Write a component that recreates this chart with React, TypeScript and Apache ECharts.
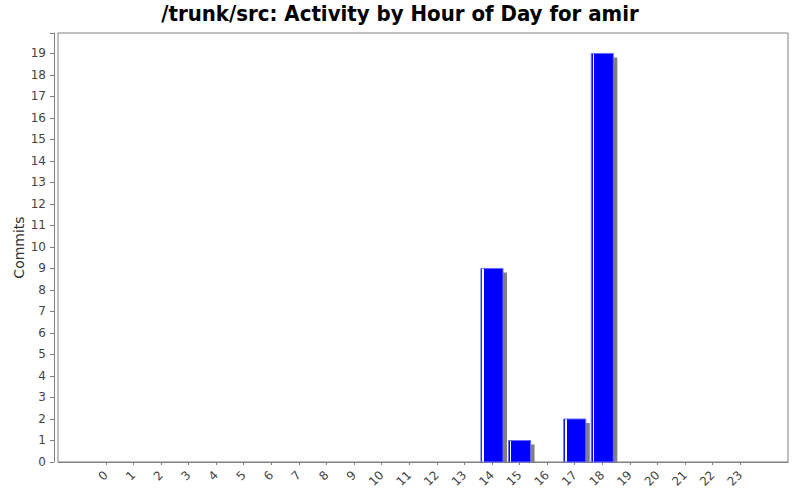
import React, { useRef, useEffect } from 'react';
import * as echarts from 'echarts';

const hours = ['0', '1', '2', '3', '4', '5', '6', '7', '8', '9', '10', '11', '12', '13', '14', '15', '16', '17', '18', '19', '20', '21', '22', '23'];
const commits = [0, 0, 0, 0, 0, 0, 0, 0, 0, 0, 0, 0, 0, 0, 9, 1, 0, 2, 19, 0, 0, 0, 0, 0];
const titleText = '/trunk/src: Activity by Hour of Day for amir';
const yName = 'Commits';

const App = () => {
    const chartRef = useRef(null);

    useEffect(() => {
        const chart = echarts.init(chartRef.current, null, { renderer: 'svg' });

        const gray = '#808080';
        const labelColor = '#444444';

        const option = {
            animation: false,
            backgroundColor: '#ffffff',
            title: {
                text: titleText,
                left: 'center',
                top: -3,
                textStyle: {
                    fontFamily: 'DejaVu Sans Condensed',
                    fontWeight: 'bold',
                    fontSize: 22,
                    color: '#000000'
                }
            },
            grid: [
                // frame
                { left: 58, right: 12, top: 33, bottom: 38, outerBoundsMode: 'none', show: true, borderColor: gray, borderWidth: 1, backgroundColor: '#ffffff' },
                // bars
                { left: 92, right: 46, top: 33, bottom: 38, outerBoundsMode: 'none' }
            ],
            xAxis: [
                {
                    gridIndex: 0,
                    type: 'value',
                    offset: 4,
                    axisLine: { show: true, lineStyle: { color: gray } },
                    axisTick: { show: false },
                    axisLabel: { show: false },
                    splitLine: { show: false }
                },
                {
                    gridIndex: 1,
                    type: 'category',
                    data: hours,
                    offset: 4,
                    axisLine: { show: false },
                    axisTick: { show: true, alignWithLabel: true, length: 3, lineStyle: { color: gray } },
                    axisLabel: {
                        rotate: 45,
                        margin: 7,
                        color: labelColor,
                        fontFamily: 'DejaVu Sans',
                        fontSize: 12
                    },
                    splitLine: { show: false }
                }
            ],
            yAxis: [
                { gridIndex: 0, type: 'value', show: false, splitLine: { show: false } },
                {
                    gridIndex: 1,
                    type: 'value',
                    min: 0,
                    max: 19.95,
                    interval: 1,
                    offset: 38,
                    name: yName,
                    nameLocation: 'middle',
                    nameGap: 28,
                    nameMoveOverlap: false,
                    nameTextStyle: { fontFamily: 'DejaVu Sans', fontSize: 14, color: '#333333' },
                    axisLine: { show: true, lineStyle: { color: gray } },
                    axisTick: { show: true, length: 4, lineStyle: { color: gray } },
                    axisLabel: {
                        margin: 8,
                        color: labelColor,
                        fontFamily: 'DejaVu Sans',
                        fontSize: 12,
                        formatter: (v: number) => (Number.isInteger(v) ? String(v) : '')
                    },
                    splitLine: { show: false }
                }
            ],
            series: [
                {
                    type: 'custom',
                    xAxisIndex: 1,
                    yAxisIndex: 1,
                    data: commits.map((c, i) => [i, c]),
                    renderItem: (params: any, api: any) => {
                        const v = api.value(1);
                        if (!v) return null;
                        const base = api.coord([api.value(0), 0]);
                        const top = api.coord([api.value(0), v]);
                        const band = api.size([1, 0])[0];
                        const w = band * 0.8;
                        const x = base[0] - w / 2;
                        const h = base[1] - top[1];
                        return {
                            type: 'group',
                            children: [
                                {
                                    type: 'rect',
                                    shape: { x: x + 4, y: top[1] + 4, width: w, height: h - 4 },
                                    style: { fill: gray }
                                },
                                {
                                    type: 'rect',
                                    shape: { x, y: top[1], width: w, height: h },
                                    style: {
                                        fill: new echarts.graphic.LinearGradient(0, 0, 1, 0, [
                                            { offset: 0, color: '#0000ff' },
                                            { offset: 0.06, color: '#0000ff' },
                                            { offset: 0.06, color: '#ffffff' },
                                            { offset: 0.13, color: '#ffffff' },
                                            { offset: 0.13, color: '#0000ff' },
                                            { offset: 1, color: '#0000ff' }
                                        ]),
                                        stroke: '#6a6aff',
                                        lineWidth: 1
                                    }
                                }
                            ]
                        };
                    }
                }
            ]
        };

        chart.setOption(option);

        return () => {
            chart.dispose();
        };
    }, []);

    return (
        <div
            ref={chartRef}
            style={{ position: 'fixed', left: 0, top: 0, width: '800px', height: '500px' }}
        />
    );
};

export default App;
